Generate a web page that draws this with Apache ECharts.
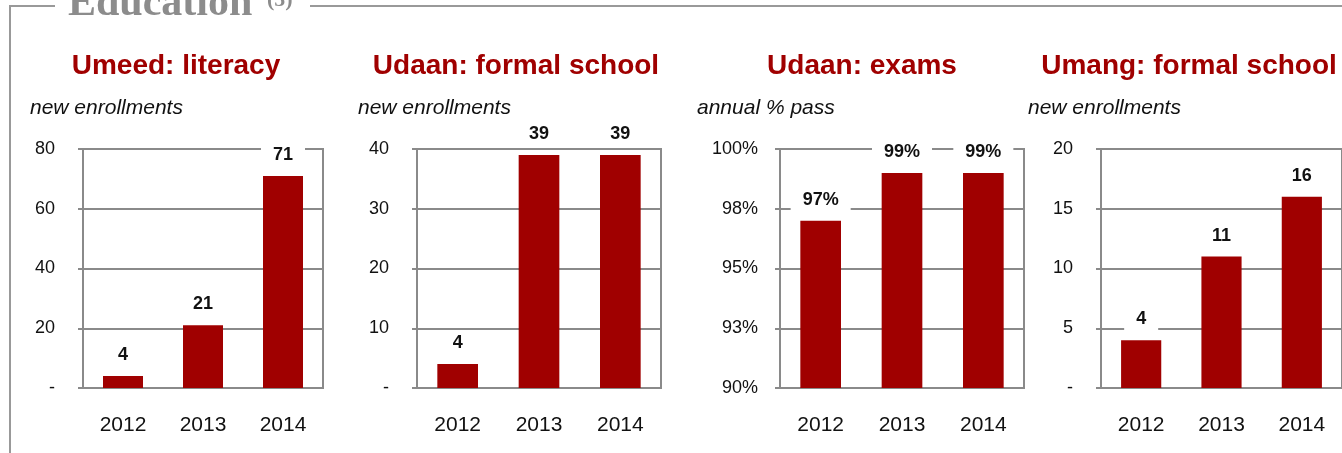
<!DOCTYPE html>
<html>
<head>
<meta charset="utf-8">
<title>Education</title>
<script src="https://cdn.jsdelivr.net/npm/echarts@6/dist/echarts.min.js"></script>
<style>
  html, body { margin: 0; padding: 0; background: #fff; }
  #chart { width: 1342px; height: 453px; }
</style>
</head>
<body>
<div id="chart"></div>
<script>
// data
const years = ['2012', '2013', '2014']
const umeedLiteracy = [4, 21, 71]
const udaanSchool = [4, 39, 39]
const udaanExamPass = [97.0, 99.0, 99.0]
const umangSchool = [4, 11, 16]

const panelTitles = ['Umeed: literacy', 'Udaan: formal school', 'Udaan: exams', 'Umang: formal school']
const panelSubtitles = ['new enrollments', 'new enrollments', 'annual % pass', 'new enrollments']
const axisMin = [0, 0, 90, 0]
const axisMax = [80, 40, 100, 20]
const axisStep = [20, 10, 2.5, 5]

const seriesData = [umeedLiteracy, udaanSchool, udaanExamPass, umangSchool]
const isPercent = [false, false, true, false]

const RED = '#a00000'
const GRAY = '#8a8a8a'
const FONT = 'Liberation Sans, Arial, sans-serif'

// layout of each panel (pixels)
const gridLeft = [83, 417, 780, 1101]
const gridWidth = [240, 244, 244, 244]
const labelMargin = [28, 28, 22, 28]
const titleCenter = [176, 516, 862, 1189]
const subtitleLeft = [30, 358, 697, 1028]

const chart = echarts.init(document.getElementById('chart'))

const grid = gridLeft.map((left, i) => ({
  left: left,
  top: 149,
  width: gridWidth[i],
  height: 239,
  show: true,
  borderColor: GRAY,
  borderWidth: 2,
  containLabel: false
}))

const xAxis = gridLeft.map((_, i) => ({
  type: 'category',
  gridIndex: i,
  data: years,
  axisLine: { lineStyle: { color: GRAY, width: 2 } },
  axisTick: { show: false },
  axisLabel: { fontSize: 21, color: '#111', fontFamily: FONT, margin: 27 }
}))

const yAxis = gridLeft.map((_, i) => ({
  type: 'value',
  gridIndex: i,
  min: axisMin[i],
  max: axisMax[i],
  interval: axisStep[i],
  axisLine: { show: true, lineStyle: { color: GRAY, width: 2 } },
  axisTick: { show: true, length: 5, lineStyle: { color: GRAY, width: 2 } },
  splitLine: { lineStyle: { color: GRAY, width: 2 } },
  axisLabel: {
    fontSize: 18,
    color: '#111',
    fontFamily: FONT,
    margin: labelMargin[i],
    formatter: v => {
      if (isPercent[i]) return Math.round(v) + '%'
      return v === 0 ? '-' : String(v)
    }
  }
}))

const series = seriesData.map((data, i) => ({
  type: 'bar',
  xAxisIndex: i,
  yAxisIndex: i,
  data: data,
  barWidth: '50%',
  itemStyle: { color: RED },
  label: {
    show: true,
    position: 'top',
    distance: 9,
    fontSize: 18,
    fontWeight: 'bold',
    fontFamily: FONT,
    color: '#111',
    backgroundColor: '#fff',
    padding: [3, 12],
    formatter: p => isPercent[i] ? Math.round(p.value) + '%' : String(p.value)
  }
}))

const graphic = [
  // frame around the section
  {
    type: 'polyline',
    shape: { points: [[10, 453], [10, 6], [55, 6]] },
    style: { stroke: '#999', lineWidth: 2, fill: null }
  },
  {
    type: 'line',
    shape: { x1: 310, y1: 6, x2: 1342, y2: 6 },
    style: { stroke: '#999', lineWidth: 2 }
  },
  {
    type: 'text',
    x: 68,
    y: 4,
    style: {
      text: 'Education',
      font: 'bold 42px "Liberation Serif", "Times New Roman", serif',
      fill: '#8c8c8c',
      verticalAlign: 'middle'
    }
  },
  {
    type: 'text',
    x: 267,
    y: 0,
    style: {
      text: '(5)',
      font: 'bold 22px "Liberation Serif", "Times New Roman", serif',
      fill: '#8c8c8c',
      verticalAlign: 'middle'
    }
  }
]

panelTitles.forEach((t, i) => {
  graphic.push({
    type: 'text',
    x: titleCenter[i],
    y: 66,
    style: {
      text: t,
      font: 'bold 28px ' + FONT,
      fill: RED,
      align: 'center',
      verticalAlign: 'middle'
    }
  })
  graphic.push({
    type: 'text',
    x: subtitleLeft[i],
    y: 108,
    style: {
      text: panelSubtitles[i],
      font: 'italic 21px ' + FONT,
      fill: '#111',
      verticalAlign: 'middle'
    }
  })
})

chart.setOption({
  animation: false,
  grid: grid,
  xAxis: xAxis,
  yAxis: yAxis,
  series: series,
  graphic: graphic
})

window.addEventListener('resize', () => chart.resize())
</script>
</body>
</html>
